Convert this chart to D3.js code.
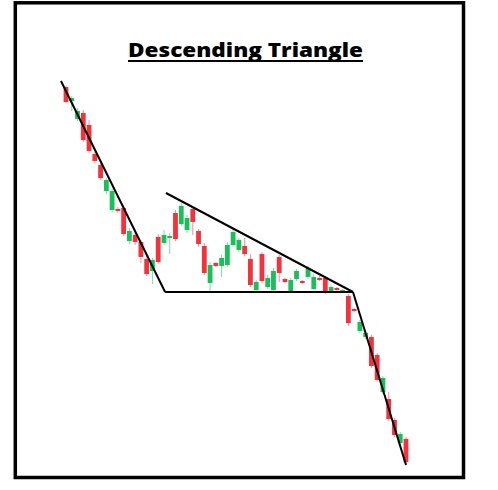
<!DOCTYPE html>
<html>
<head>
<meta charset="utf-8">
<script src="https://cdn.jsdelivr.net/npm/d3@7"></script>
<style>
  body { margin: 0; background: #fff; }
</style>
</head>
<body>
<div id="content"></div>
<script>
// candle values (price units, no axis shown)
var opens  = [393,379,361,367,355,326,315,289,270,271,272,239,245,238,221,209,243,237,242,267,
              256,250,271,249,234,197,217,214,215,235,230,234,221,190,226,193,190,223,201,188,
              201,199,203,191,202,202,187,192,187,184,171,149,143,143,125,88,81,60,37,41]
var closes = [378,382,369,340,329,319,302,300,289,269,246,249,238,223,206,220,218,245,244,241,
              274,262,258,236,207,215,214,222,235,248,240,226,195,198,199,202,209,207,198,200,
              209,197,212,203,200,187,193,190,190,157,169,158,147,114,100,102,61,45,46,18]
var highs  = [394,384,372,370,360,328,318,302,291,273,275,252,248,240,224,222,246,250,247,270,
              277,265,273,251,237,218,218,225,238,251,242,242,226,200,228,205,212,225,202,202,
              211,200,214,206,204,204,195,193,191,186,172,160,149,145,127,104,88,62,48,43]
var lows   = [377,369,359,338,327,317,300,286,268,267,244,236,235,217,204,196,216,235,226,239,
              254,247,245,233,205,188,213,203,213,233,228,224,193,188,197,191,188,198,197,187,
              199,196,201,190,199,186,187,189,187,154,168,147,141,112,98,86,59,43,35,16]

// pattern lines as [candle index, price]
var trendLine      = [[-0.87,399],[17.2,188]]
var supportLine    = [[17.2,188],[49.8,188]]
var resistanceLine = [[17.35,287],[49.8,188]]
var breakdownLine  = [[49.8,188],[59,15]]

var titleText = "Descending Triangle"

var svgwidth = 498
var svgheight = 490
var upColor = "#18c05a"
var downColor = "#f5323c"

var svg = d3.select("#content").append("svg")
  .attr("width", svgwidth)
  .attr("height", svgheight)

// frame
svg.append("rect")
  .attr("x", 15.3)
  .attr("y", 2.8)
  .attr("width", 448.2)
  .attr("height", 474.7)
  .attr("fill", "none")
  .attr("stroke", "#000")
  .attr("stroke-width", 3.5)

// title
svg.append("text")
  .attr("x", 245.5)
  .attr("y", 57)
  .attr("text-anchor", "middle")
  .attr("textLength", 235)
  .attr("lengthAdjust", "spacingAndGlyphs")
  .style("font-family", "'Open Sans', sans-serif")
  .style("font-weight", 800)
  .style("font-size", "20px")
  .attr("fill", "#000")
  .text(titleText)
svg.append("line")
  .attr("x1", 128).attr("x2", 363)
  .attr("y1", 61).attr("y2", 61)
  .attr("stroke", "#000")
  .attr("stroke-width", 2.2)

var x = d3.scaleLinear()
  .domain([0, opens.length - 1])
  .range([66, 406])

var y = d3.scaleLinear()
  .domain([0, 400])
  .range([480, 80])

var bodyWidth = 4.8
var candles = svg.append("g").attr("class", "candles")

for (var i = 0; i < opens.length; i++) {
  var col = closes[i] >= opens[i] ? upColor : downColor
  candles.append("line")
    .attr("x1", x(i)).attr("x2", x(i))
    .attr("y1", y(highs[i])).attr("y2", y(lows[i]))
    .attr("stroke", col)
    .attr("stroke-opacity", 0.55)
    .attr("stroke-width", 1)
  candles.append("rect")
    .attr("x", x(i) - bodyWidth / 2)
    .attr("y", y(Math.max(opens[i], closes[i])))
    .attr("width", bodyWidth)
    .attr("height", Math.max(1.5, Math.abs(y(opens[i]) - y(closes[i]))))
    .attr("fill", col)
}

// pattern lines on top of the candles
var path = d3.line()
  .x(function(d) { return x(d[0]) })
  .y(function(d) { return y(d[1]) })

var lines = [trendLine, supportLine, resistanceLine, breakdownLine]
for (var j = 0; j < lines.length; j++) {
  svg.append("path")
    .attr("d", path(lines[j]))
    .attr("fill", "none")
    .attr("stroke", "#000")
    .attr("stroke-width", 2)
    .attr("stroke-linejoin", "round")
}
</script>
</body>
</html>
